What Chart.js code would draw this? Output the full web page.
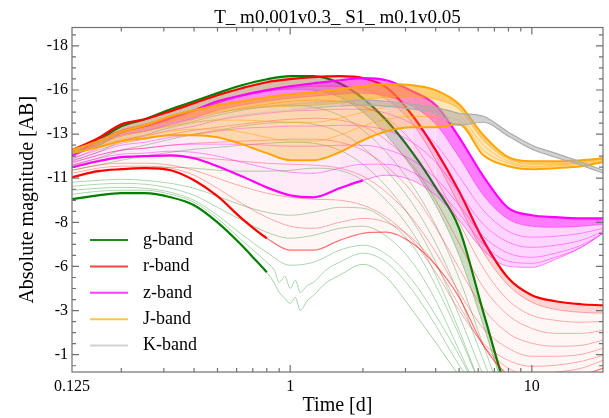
<!DOCTYPE html>
<html><head><meta charset="utf-8">
<script src="https://cdn.jsdelivr.net/npm/chart.js@4.4.1/dist/chart.umd.min.js"></script>
<style>html,body{margin:0;padding:0;background:#fff;}</style>
</head><body>
<canvas id="c" width="609" height="418"></canvas>
<script>
const TITLE = 'T_ m0.001v0.3_ S1_ m0.1v0.05';
const X_LABEL = 'Time [d]';
const Y_LABEL = 'Absolute magnitude [AB]';
const BANDS = ['g-band', 'r-band', 'z-band', 'J-band', 'K-band'];
const TIME = [0.125,0.16,0.2,0.25,0.32,0.4,0.5,0.63,0.8,1,1.25,1.6,2,2.5,3.2,4,5,6.3,8,10,12.5,16,19.7];
const TIME_LOW = [0.125,0.16,0.2,0.25,0.32,0.4,0.5,0.63,0.72,0.8,0.86,0.9,0.95,1,1.05,1.1,1.18,1.25,1.4,1.6,2,2.5,3.2,4,5,6.3,8];
const X_TICKS = [0.125, 1, 10];
const X_MINOR = [0.2,0.3,0.4,0.5,0.6,0.7,0.8,0.9,2,3,4,5,6,7,8,9];
const Y_TICKS = [-18.25,-15.75,-13.25,-10.75,-8.25,-5.75,-3.25,-0.75];

// g-band (top envelope, inner curves, bottom envelope; the two lowest on TIME_LOW)
const G_TOP = [-12.34,-12.90,-13.70,-14.09,-14.66,-15.11,-15.57,-16.02,-16.36,-16.53,-16.53,-16.13,-15.28,-14.04,-12.22,-10.23,-7.91,-3.15,1.55,4.1,5.8,6.9,7.5];
const G2 = [-12.05,-12.56,-13.30,-13.70,-14.21,-14.60,-15.00,-15.40,-15.68,-15.79,-15.74,-15.34,-14.49,-13.19,-11.32,-9.22,-6.38,-2.41,1.84,4.1,5.8,6.9,7.5];
const G3 = [-11.77,-12.22,-12.85,-13.19,-13.64,-13.98,-14.32,-14.60,-14.83,-14.89,-14.77,-14.32,-13.47,-12.22,-10.35,-8.08,-5.08,-1.28,2.4,4.5,6,7,7.5];
const G4 = [-11.49,-11.88,-12.34,-12.62,-12.96,-13.24,-13.47,-13.70,-13.87,-13.92,-13.81,-13.36,-12.50,-11.20,-9.32,-7.06,-4.12,-0.43,2.97,5,6,7,7.5];
const G5 = [-11.20,-11.49,-11.77,-12.00,-12.22,-12.39,-12.50,-12.62,-12.73,-12.79,-12.73,-12.34,-11.54,-10.29,-8.37,-5.99,-2.98,0.42,3.2,5,6,7,7.5];
const G6 = [-10.86,-11.09,-11.26,-11.37,-11.37,-11.32,-11.20,-11.15,-11.15,-11.20,-11.32,-11.20,-10.63,-9.50,-7.69,-5.25,-2.13,1.27,3.5,5,6,7,7.5];
const G7 = [-10.52,-10.63,-10.69,-10.63,-10.46,-10.18,-9.73,-9.22,-8.82,-8.65,-8.82,-9.10,-9.05,-8.37,-6.95,-4.68,-1.85,1.27,3.5,5,6,7,7.5];
const G8 = [-10.29,-10.41,-10.46,-10.41,-10.18,-9.78,-9.10,-8.37,-7.69,-7.35,-7.52,-7.91,-8.03,-7.46,-5.99,-3.83,-1.00,1.84,3.5,5,6,7,7.5];
const G9 = [-10.07,-10.18,-10.23,-10.18,-9.95,-9.50,-8.65,-7.57,-6.55,-5.82,-5.99,-6.67,-6.95,-6.44,-4.97,-2.98,-0.71,1.84,3.5,5,6,7,7.5];
const G10 = [-9.84,-10.01,-10.07,-10.07,-9.84,-9.39,-8.47,-7.23,-6.55,-5.99,-5.53,-4.85,-5.19,-4.51,-4.97,-4.29,-4.68,-4.85,-5.53,-5.99,-6.50,-5.99,-4.40,-2.41,-0.15,1.55,2.97];
const G_BOT = [-9.56,-9.78,-9.90,-9.90,-9.67,-9.22,-8.25,-6.95,-6.10,-5.42,-4.80,-4.29,-3.95,-3.66,-4.00,-3.27,-3.83,-4.12,-4.80,-5.25,-5.87,-5.13,-3.27,-1.45,0.42,1.84,2.97];

// r-band
const R_TOP = [-12.34,-13.02,-13.81,-14.09,-14.55,-15.00,-15.45,-15.85,-16.19,-16.36,-16.47,-16.53,-16.42,-15.90,-14.32,-12.34,-10.01,-7.23,-5.08,-4.12,-3.78,-3.61,-3.55];
const R2 = [-12.22,-12.85,-13.47,-13.81,-14.21,-14.60,-15.00,-15.40,-15.68,-15.85,-15.96,-15.96,-15.79,-15.23,-13.87,-11.77,-9.22,-6.55,-4.68,-3.72,-3.32,-3.15,-3.10];
const R3 = [-12.05,-12.62,-13.13,-13.41,-13.75,-14.09,-14.43,-14.72,-14.94,-15.11,-15.17,-15.11,-14.83,-14.15,-12.79,-10.75,-8.25,-5.65,-3.83,-2.98,-2.70,-2.59,-2.64];
const R4 = [-11.88,-12.34,-12.73,-12.96,-13.24,-13.47,-13.64,-13.81,-13.98,-14.09,-14.15,-14.04,-13.70,-12.90,-11.49,-9.50,-7.06,-4.57,-2.98,-2.24,-1.96,-1.96,-2.13];
const R5 = [-11.66,-12.05,-12.34,-12.45,-12.62,-12.73,-12.79,-12.85,-12.90,-12.96,-12.96,-12.79,-12.34,-11.43,-9.95,-7.97,-5.65,-3.38,-1.96,-1.40,-1.23,-1.28,-1.57];
const R6 = [-11.43,-11.77,-11.94,-12.00,-12.00,-11.94,-11.83,-11.71,-11.60,-11.54,-11.49,-11.32,-10.86,-9.95,-8.47,-6.55,-4.29,-2.24,-1.11,-0.66,-0.66,-0.77,-1.11];
const R7 = [-11.20,-11.49,-11.60,-11.60,-11.49,-11.20,-10.75,-10.29,-9.90,-9.67,-9.56,-9.50,-9.22,-8.54,-7.23,-5.42,-3.27,-1.40,-0.43,-0.09,-0.15,-0.37,-0.71];
const R8 = [-11.03,-11.32,-11.43,-11.43,-11.32,-10.92,-10.18,-9.32,-8.54,-8.03,-7.91,-8.25,-8.47,-8.25,-7.35,-5.82,-3.55,-1.28,0.02,0.42,0.25,0.02,-0.43];
const R_BOT = [-10.80,-11.15,-11.26,-11.32,-11.20,-10.63,-9.73,-8.47,-7.35,-6.67,-6.67,-7.23,-7.63,-7.69,-7.06,-5.82,-4.00,-1.28,0.42,0.99,0.70,0.42,0.02];

// z-band
const M_TOP = [-12.05,-12.85,-13.41,-13.70,-14.15,-14.60,-15.11,-15.45,-15.74,-15.96,-16.13,-16.30,-16.42,-16.30,-15.68,-14.89,-13.07,-10.86,-9.05,-8.65,-8.54,-8.47,-8.47];
const Z2 = [-11.94,-12.68,-13.19,-13.41,-13.81,-14.15,-14.60,-14.89,-15.11,-15.28,-15.40,-15.51,-15.57,-15.40,-14.83,-13.81,-11.94,-9.78,-8.42,-8.03,-7.97,-8.03,-8.14];
const Z3 = [-11.83,-12.45,-12.90,-13.13,-13.47,-13.70,-14.04,-14.26,-14.43,-14.55,-14.60,-14.66,-14.66,-14.43,-13.81,-12.68,-10.86,-8.93,-7.74,-7.41,-7.46,-7.63,-7.91];
const Z4 = [-11.71,-12.22,-12.62,-12.79,-13.07,-13.24,-13.41,-13.58,-13.64,-13.70,-13.70,-13.75,-13.70,-13.47,-12.79,-11.66,-9.95,-8.14,-7.12,-6.83,-6.95,-7.23,-7.74];
const Z5 = [-11.60,-12.05,-12.34,-12.45,-12.62,-12.68,-12.68,-12.68,-12.62,-12.56,-12.56,-12.62,-12.62,-12.39,-11.77,-10.75,-9.22,-7.46,-6.50,-6.27,-6.50,-6.95,-7.63];
const Z6 = [-11.49,-11.88,-12.11,-12.17,-12.28,-12.22,-12.00,-11.66,-11.32,-11.09,-11.03,-11.32,-11.54,-11.54,-11.09,-10.18,-8.76,-7.01,-6.04,-5.93,-6.27,-6.83,-7.63];
const M_BOT = [-11.37,-11.71,-11.94,-12.00,-12.05,-11.88,-11.43,-10.86,-10.23,-9.78,-9.67,-10.18,-10.63,-10.92,-10.63,-9.78,-8.37,-6.67,-5.76,-5.70,-6.15,-6.83,-7.63];

// J-band
const J_TOP = [-12.34,-12.85,-13.41,-13.75,-14.26,-14.60,-14.89,-15.11,-15.34,-15.51,-15.62,-15.79,-15.96,-16.07,-16.02,-15.74,-14.94,-13.19,-11.94,-11.71,-11.71,-11.77,-11.88];
const J2 = [-12.28,-12.73,-13.30,-13.58,-13.98,-14.26,-14.49,-14.66,-14.77,-14.83,-14.89,-15.00,-15.17,-15.34,-15.40,-15.23,-14.66,-12.90,-11.83,-11.54,-11.54,-11.66,-11.83];
const J3 = [-12.22,-12.68,-13.13,-13.41,-13.70,-13.92,-14.04,-14.04,-13.98,-13.92,-13.92,-14.15,-14.49,-14.77,-14.89,-14.72,-14.32,-12.62,-11.71,-11.43,-11.49,-11.60,-11.77];
const J4 = [-12.22,-12.56,-12.96,-13.19,-13.41,-13.53,-13.53,-13.36,-13.07,-12.85,-12.85,-13.19,-13.70,-14.09,-14.26,-14.21,-14.04,-12.34,-11.60,-11.37,-11.43,-11.54,-11.71];
const J_BOT = [-12.17,-12.50,-12.85,-13.02,-13.19,-13.19,-13.07,-12.68,-12.17,-11.77,-11.77,-12.22,-12.90,-13.41,-13.64,-13.64,-13.81,-12.05,-11.43,-11.26,-11.32,-11.43,-11.66];

// K-band
const K_TOP = [-12.34,-12.79,-13.24,-13.53,-13.87,-14.15,-14.43,-14.66,-14.83,-14.94,-15.06,-15.11,-15.17,-15.11,-14.94,-14.77,-14.43,-14.26,-13.36,-12.62,-12.17,-11.66,-11.20];
const K_BOT = [-12.17,-12.56,-13.02,-13.30,-13.58,-13.87,-14.09,-14.32,-14.49,-14.60,-14.72,-14.83,-14.89,-14.83,-14.66,-14.43,-13.75,-13.92,-13.13,-12.39,-11.94,-11.49,-11.03];

const COL = {g:[0,128,0], r:[255,0,0], z:[255,0,255], J:[255,165,0], K:[172,172,172]};
const LEGEND_COL = ['#1b8c1b','#f04848','#ff3dff','#ffc44f','#d2d2d2'];
function rgba(c,a){return 'rgba('+c[0]+','+c[1]+','+c[2]+','+a+')';}
function pts(arr,times){return times.map((t,i)=>({x:t,y:arr[i]}));}
// opacity steps along time: [[fromTime, alpha], ...] ascending
function stepAlpha(steps,t){let a=steps[0][1]; steps.forEach(s=>{ if(t>=s[0]) a=s[1]; }); return a;}

const ds = [];
function addLine(arr,color,w,order,extra){
  const times = arr.length === TIME_LOW.length ? TIME_LOW : TIME;
  ds.push(Object.assign({data:pts(arr,times),borderColor:color,borderWidth:w,pointRadius:0,
    cubicInterpolationMode:'monotone',fill:false,order:order},extra||{}));
  return ds.length-1;
}
function addBand(label,top,thin,bot,c,o,p){
  const iTop = ds.length;
  const iBot = iTop + 2 + thin.length;
  const topExtra = {label:label};
  const topSeg = {};
  if (p.fa > 0 || p.fillSteps) {
    topExtra.fill = {target:iBot};
    topExtra.backgroundColor = rgba(c,p.fa||0);
    if (p.fillSteps) topSeg.backgroundColor = s => rgba(c, stepAlpha(p.fillSteps, s.p0.parsed.x));
  }
  if (p.lineSteps) topSeg.borderColor = s => rgba(c, stepAlpha(p.lineSteps, s.p0.parsed.x));
  topExtra.segment = topSeg;
  addLine(top, rgba(c,1), p.bw, o, topExtra);
  addLine(top, 'rgba(0,0,0,0)', 0, o+1, p.fb>0 ? {fill:{target:iTop+2}, backgroundColor:rgba(c,p.fb)} : {});
  thin.forEach(a=>addLine(a, rgba(c,p.ta), 1, o+2));
  const botSeg = {};
  if (p.fade) {
    botSeg.borderWidth = s => s.p0.parsed.x >= p.fade[0] ? p.fade[1] : p.bw;
    botSeg.borderColor = s => rgba(c, s.p0.parsed.x >= p.fade[0] ? p.fade[2] : 1);
  }
  if (p.lineSteps) botSeg.borderColor = s => rgba(c, stepAlpha(p.lineSteps, s.p0.parsed.x));
  addLine(bot, rgba(c,1), p.bw, o, {segment:botSeg});
}
addBand(BANDS[0], G_TOP,[G2,G3,G4,G5,G6,G7,G8,G9,G10], G_BOT, COL.g, 50, {bw:2.2,ta:0.32,fa:0,fb:0.2,fade:[0.8,1,0.35]});
addBand(BANDS[1], R_TOP,[R2,R3,R4,R5,R6,R7,R8], R_BOT, COL.r, 40, {bw:2.2,ta:0.32,fa:0.035,fb:0.14,fade:[0.8,1.2,0.55]});
addBand(BANDS[2], M_TOP,[Z2,Z3,Z4,Z5,Z6], M_BOT, COL.z, 30, {bw:2.2,ta:0.4,fb:0.42,fade:[2,1,0.45],
  fillSteps:[[0,0.05],[1.6,0.065],[2,0.08],[2.5,0.11],[3.2,0.14],[4,0.17]]});
addBand(BANDS[3], J_TOP,[J2,J3,J4], J_BOT, COL.J, 20, {bw:2,ta:0.5,fa:0.28,fb:0.38});
addBand(BANDS[4], K_TOP,[], K_BOT, COL.K, 10, {bw:1.2,ta:0.5,fb:0,
  fillSteps:[[0,0.1],[1,0.2],[1.25,0.3],[1.6,0.42],[2,0.55]],
  lineSteps:[[0,0.3],[1,0.45],[1.25,0.6],[1.6,0.8],[2,1]]});

const FONT = 'Liberation Serif';

const framePlugin = {
  id:'frame',
  afterDraw(chart){
    const {ctx, chartArea:a, scales:{x,y}} = chart;
    ctx.save();
    ctx.strokeStyle = '#707070';
    ctx.lineWidth = 1.2;
    ctx.strokeRect(a.left, a.top, a.right-a.left, a.bottom-a.top);
    ctx.beginPath();
    const tick = (x0,y0,x1,y1)=>{ctx.moveTo(x0,y0);ctx.lineTo(x1,y1);};
    X_TICKS.forEach(v=>{ if(v<=x.min) return; const px=x.getPixelForValue(v); tick(px,a.bottom,px,a.bottom-7); tick(px,a.top,px,a.top+7);});
    X_MINOR.forEach(v=>{ const px=x.getPixelForValue(v); tick(px,a.bottom,px,a.bottom-4); tick(px,a.top,px,a.top+4);});
    const step = (Y_TICKS[1]-Y_TICKS[0])/4;
    for(let v=Y_TICKS[0]-step*4; v<=y.max; v+=step){
      if(v<y.min) continue;
      const py=y.getPixelForValue(v);
      const major = Y_TICKS.some(t=>Math.abs(t-v)<1e-6);
      const L = major?7:4;
      tick(a.left,py,a.left+L,py); tick(a.right,py,a.right-L,py);
    }
    ctx.stroke();
    ctx.restore();
  }
};
const legendPlugin = {
  id:'inlegend',
  afterDraw(chart){
    const {ctx, chartArea:a} = chart;
    ctx.save();
    ctx.font = '18px "'+FONT+'"';
    ctx.textBaseline = 'middle';
    ctx.fillStyle = '#000';
    BANDS.forEach((b,i)=>{
      const yy = a.top + 212.5 + 26.4*i;
      ctx.strokeStyle = LEGEND_COL[i];
      ctx.lineWidth = 2;
      ctx.beginPath(); ctx.moveTo(a.left+18, yy); ctx.lineTo(a.left+56, yy); ctx.stroke();
      ctx.fillText(b, a.left+71, yy);
    });
    ctx.restore();
  }
};

Chart.defaults.font.family = FONT;
Chart.defaults.color = '#000';
new Chart(document.getElementById('c'), {
  type:'line',
  data:{datasets:ds},
  options:{
    responsive:false, animation:false, devicePixelRatio:1,
    layout:{padding:{right:6, top:0, left:0, bottom:0}},
    plugins:{
      legend:{display:false}, tooltip:{enabled:false},
      title:{display:true, text:TITLE, fullSize:false, color:'#000',
        font:{family:FONT, size:19, weight:'normal', lineHeight:1}, padding:{top:8.5, bottom:0}},
      filler:{propagate:false}
    },
    scales:{
      x:{type:'logarithmic', min:0.125, max:19.7,
        grid:{display:false, drawTicks:false}, border:{display:false},
        afterBuildTicks:s=>{s.ticks = X_TICKS.map(v=>({value:v}));},
        afterFit:s=>{s.height = 46;},
        ticks:{autoSkip:false, maxRotation:0, padding:5, font:{size:16}, callback:v=>String(v)},
        title:{display:true, text:X_LABEL, font:{size:20}, padding:{top:0,bottom:0}}
      },
      y:{type:'linear', reverse:true, min:-19.29, max:0.23,
        grid:{display:false, drawTicks:false}, border:{display:false},
        afterBuildTicks:s=>{s.ticks = Y_TICKS.map(v=>({value:v}));},
        afterFit:s=>{s.width = 72;},
        ticks:{padding:4, font:{size:16}, callback:v=>String(Math.round(v))},
        title:{display:true, text:Y_LABEL, font:{size:20}, padding:{top:16,bottom:0}}
      }
    }
  },
  plugins:[framePlugin, legendPlugin]
});
</script>
</body></html>
